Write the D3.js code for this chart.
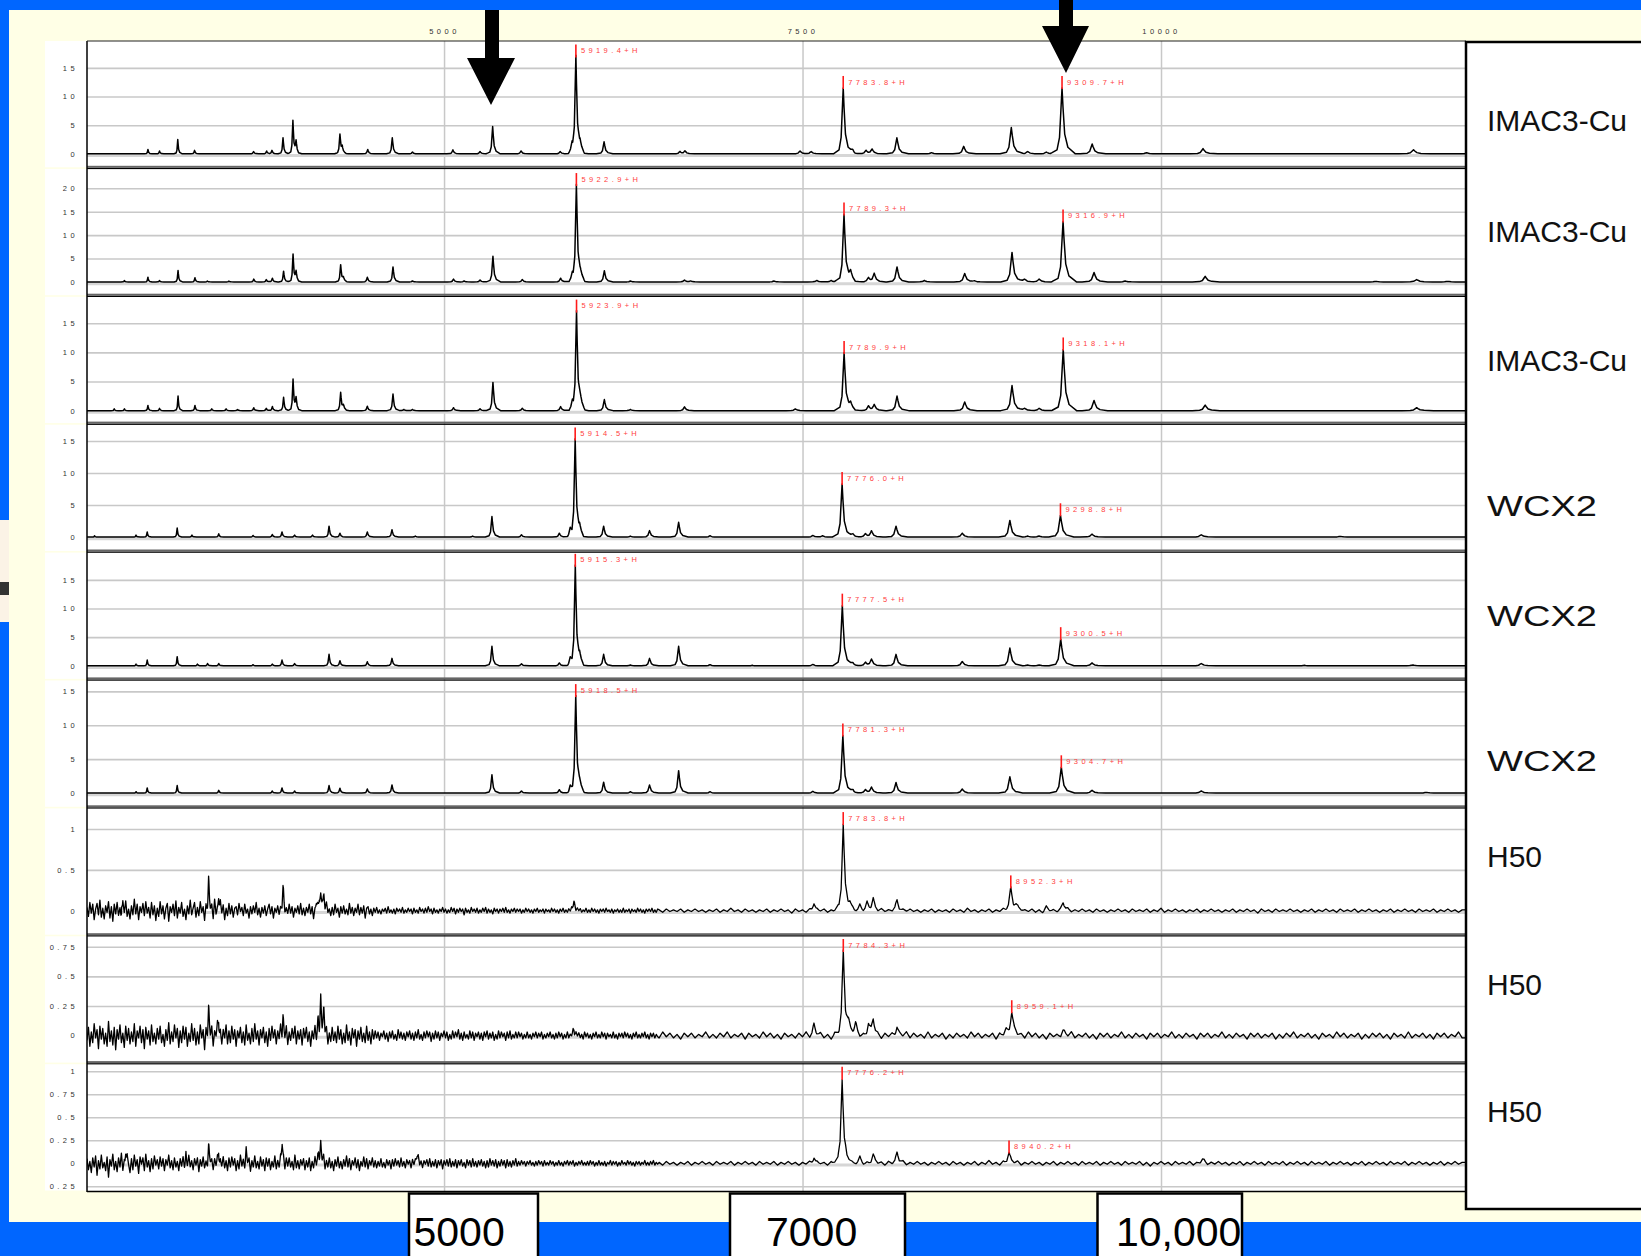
<!DOCTYPE html>
<html><head><meta charset="utf-8">
<script src="https://cdn.jsdelivr.net/npm/d3@7"></script>
<style>
html,body{margin:0;padding:0;background:#0066ff;}
svg{display:block;}
text{font-family:"Liberation Sans",Arial,Helvetica,sans-serif;}
</style></head><body>
<svg id="c" width="1641" height="1256"></svg>
<script>
// ---------------- DATA ----------------
const massExtent = [2510, 12120];
const topTicks = [5000, 7500, 10000];
const topTickLabels = ["5000", "7500", "10000"];
const bottomBoxLabels = ["5000", "7000", "10,000"];
const panelNames = ["IMAC3-Cu","IMAC3-Cu","IMAC3-Cu","WCX2","WCX2","WCX2","H50","H50","H50"];
const panelYMax = [19.7, 24.15, 19.54, 17.55, 19.76, 16.6, 1.252, 0.838, 1.077];
const panelYMin = [-2.04, -2.45, -1.83, -1.9, -1.97, -1.76, -0.272, -0.213, -0.276];
const panelTicks = [
  [0,5,10,15],[0,5,10,15,20],[0,5,10,15],[0,5,10,15],[0,5,10,15],[0,5,10,15],
  [0,0.5,1],[0,0.25,0.5,0.75],[-0.25,0,0.25,0.5,0.75,1]];
const panelTickLabels = [
  ["0","5","10","15"],["0","5","10","15","20"],["0","5","10","15"],["0","5","10","15"],
  ["0","5","10","15"],["0","5","10","15"],["0","0.5","1"],["0","0.25","0.5","0.75"],
  ["0.25","0","0.25","0.5","0.75","1"]];

// peaks: [m/z, intensity]
const imac1Peaks = [[2935,0.75],[3016,0.5],[3143,2.5],[3260,0.6],[3672,0.4],[3763,0.5],[3800,0.6],[3877,2.8],[3946,5.8],[3968,2.0],[4274,3.4],[4290,1.0],[4468,0.75],[4639,2.8],[4780,0.3],[5062,0.7],[5251,0.4],[5339,4.75],[5537,0.5],[5810,0.4],[5893,1.4],[5948,1.2],[6116,2.1],[6645,0.4],[6680,0.5],[7483,0.5],[7560,0.4],[7850,0.5],[7943,0.6],[7985,0.8],[8158,2.8],[8400,0.2],[8624,1.3],[8956,4.6],[9070,0.4],[9200,0.3],[9520,1.7],[9900,0.2],[10293,0.9],[11761,0.7]];
const imac1Marked = [[5919.4,17.0,"5919.4+H"],[7783.8,11.5,"7783.8+H"],[9309.7,11.5,"9309.7+H"]];

const imac2Peaks = [[2771,0.3],[2935,1.0],[3016,0.3],[3145,2.45],[3263,0.9],[3350,0.2],[3500,0.2],[3673,0.6],[3760,0.5],[3803,0.8],[3881,2.3],[3947,5.9],[3968,2.0],[4279,3.65],[4298,0.8],[4465,1.0],[4644,3.2],[4780,0.2],[5066,0.6],[5140,0.2],[5251,0.4],[5341,5.5],[5546,0.5],[5813,0.8],[5895,1.3],[5950,1.2],[6118,2.4],[6300,0.2],[6677,0.4],[6720,0.2],[7300,0.2],[7600,0.3],[7700,0.3],[7835,1.6],[7960,0.9],[8000,1.8],[8159,3.2],[8350,0.3],[8631,1.8],[8700,0.2],[8961,6.3],[9050,0.6],[9150,0.6],[9533,2.0],[9750,0.2],[10308,1.2],[11500,0.1],[11783,0.5],[12000,0.1]];
const imac2Marked = [[5922.9,20.7,"5922.9+H"],[7789.3,14.4,"7789.3+H"],[9316.9,12.9,"9316.9+H"]];

const imac3Peaks = [[2700,0.3],[2771,0.3],[2935,0.9],[3016,0.4],[3145,2.5],[3263,0.9],[3380,0.3],[3480,0.3],[3560,0.2],[3673,0.5],[3760,0.4],[3803,0.7],[3881,2.3],[3947,5.35],[3968,2.0],[4279,3.1],[4298,0.8],[4465,0.75],[4644,2.85],[4720,0.2],[4780,0.2],[5066,0.5],[5251,0.3],[5341,4.85],[5546,0.4],[5813,0.7],[5895,1.2],[5950,1.4],[6118,1.9],[6300,0.2],[6677,0.65],[7450,0.3],[7835,0.9],[7960,0.8],[8000,1.0],[8159,2.5],[8631,1.5],[8961,4.3],[9050,0.4],[9150,0.4],[9533,1.75],[10308,0.95],[11783,0.5]];
const imac3Marked = [[5923.9,17.0,"5923.9+H"],[7789.9,9.9,"7789.9+H"],[9318.1,10.5,"9318.1+H"]];

const wcx1Peaks = [[2563,0.2],[2852,0.3],[2930,0.8],[3139,1.4],[3242,0.3],[3429,0.5],[3668,0.25],[3802,0.4],[3870,0.8],[3958,0.3],[4083,0.3],[4198,1.7],[4274,0.6],[4465,0.8],[4637,1.15],[4800,0.15],[5200,0.15],[5334,3.2],[5540,0.35],[5804,0.6],[5880,1.0],[5945,1.0],[6113,1.7],[6300,0.15],[6433,1.0],[6636,2.3],[6855,0.2],[7572,0.25],[7640,0.2],[7852,0.5],[7939,0.5],[7981,0.95],[8152,1.7],[8614,0.6],[8946,2.6],[9070,0.15],[9150,0.15],[9519,0.45],[10281,0.35],[11250,0.1]];
const wcx1Marked = [[5914.5,15.25,"5914.5+H"],[7776.0,8.3,"7776.0+H"],[9298.8,3.4,"9298.8+H"]];

const wcx2Peaks = [[2852,0.3],[2930,1.0],[3139,1.6],[3280,0.3],[3351,0.4],[3429,0.4],[3668,0.2],[3802,0.3],[3870,1.0],[3958,0.4],[4198,2.0],[4274,0.9],[4465,0.7],[4637,1.3],[5334,3.4],[5540,0.35],[5804,0.5],[5880,1.0],[5945,1.2],[6113,2.0],[6300,0.15],[6433,1.3],[6636,3.4],[6855,0.2],[7150,0.1],[7572,0.25],[7852,0.5],[7939,0.6],[7981,1.15],[8152,2.0],[8614,0.75],[8946,3.1],[9070,0.15],[9150,0.15],[9519,0.5],[10281,0.4],[11000,0.1],[11757,0.15]];
const wcx2Marked = [[5915.3,17.45,"5915.3+H"],[7777.5,10.5,"7777.5+H"],[9300.5,4.65,"9300.5+H"]];

const wcx3Peaks = [[2852,0.2],[2930,0.75],[3139,1.1],[3429,0.4],[3802,0.3],[3870,0.75],[3958,0.3],[4198,1.1],[4274,0.7],[4465,0.6],[4637,1.2],[5334,2.7],[5540,0.3],[5804,0.5],[5880,0.8],[5945,1.0],[6113,1.6],[6300,0.2],[6433,1.2],[6636,3.3],[6855,0.2],[7572,0.25],[7852,0.4],[7939,0.5],[7981,0.85],[8152,1.55],[8614,0.6],[8946,2.4],[9519,0.4],[10281,0.3],[11850,0.1]];
const wcx3Marked = [[5918.5,14.3,"5918.5+H"],[7781.3,8.5,"7781.3+H"],[9304.7,3.8,"9304.7+H"]];

const h50aPeaks = [[2752,0.15],[3358,0.36],[3428,0.2],[3877,0.24],[4120,0.12],[4140,0.28],[4162,0.15],[5906,0.12],[7580,0.09],[7830,0.06],[7900,0.06],[7950,0.08],[7993,0.15],[8159,0.13],[8990,0.05],[9200,0.04],[9317,0.1]];
const h50aMarked = [[7783.8,1.06,"7783.8+H"],[8952.3,0.285,"8952.3+H"]];
const h50bPeaks = [[3358,0.2],[3428,0.14],[3877,0.18],[4122,0.15],[4140,0.28],[4162,0.15],[5906,0.05],[7580,0.1],[7820,0.08],[7870,0.09],[7960,0.1],[7993,0.13],[8159,0.08],[8920,0.05],[9317,0.04]];
const h50bMarked = [[7784.3,0.714,"7784.3+H"],[8959.1,0.197,"8959.1+H"]];
const h50cPeaks = [[2780,0.15],[3200,0.12],[3358,0.16],[3428,0.17],[3620,0.12],[3871,0.22],[4125,0.12],[4140,0.18],[4811,0.1],[7580,0.07],[7900,0.05],[7993,0.09],[8159,0.12],[10290,0.04]];
const h50cMarked = [[7776.2,0.918,"7776.2+H"],[8940.2,0.117,"8940.2+H"]];

// baseline noise of the H50 traces, in hundredths of intensity
// low range: from 2510 every 10 Da; high range: from 6500 every 25 Da
const h50aNoiseLow = [
4,-7,10,-3,8,-11,2,9,-5,13,-8,3,-10,6,-2,11,-9,5,-13,8,-4,10,-6,3,-15,
9,-3,12,-7,2,-10,6,-5,14,-4,8,-11,5,-2,9,-6,11,-3,4,-9,10,-5,6,-12,3,
-7,11,-4,6,-10,3,9,-13,5,-2,8,-6,12,-9,4,-3,10,-7,2,-11,6,-4,13,-5,3,
10,-8,4,-6,11,-2,5,-12,7,-4,9,-3,6,-10,14,-5,2,-7,10,-4,7,-11,3,-6,9,
-4,6,-8,3,5,-5,9,-1,4,-6,8,-3,2,-9,5,-4,6,-2,10,-5,3,-8,4,-3,6,
-6,2,8,-4,5,-9,3,-2,6,-5,4,-3,11,-6,2,-4,8,-3,5,-8,3,-2,6,-4,9,
-5,3,-6,4,-2,8,-4,5,-10,3,6,-3,4,-8,2,5,-4,9,-3,2,-6,4,-5,8,-2,
3,-8,5,-3,6,-4,2,-5,9,-3,4,-6,3,-2,8,-5,4,-3,6,-9,3,5,-4,2,-6,
3,-2,4,-3,1,-4,2,-1,3,-3,5,-2,1,-3,2,-4,3,-1,2,-2,4,-3,1,-2,3,
-1,2,-4,3,-2,1,-3,4,-1,2,-3,3,-2,5,-1,2,-4,3,-2,1,-3,2,-1,4,-2,
2,-3,1,-2,4,-1,3,-4,2,-2,3,-1,2,-5,3,-2,1,-3,4,-1,2,-2,3,-3,1,
-2,3,-1,4,-3,2,-2,1,-4,3,-1,2,-3,2,-1,3,-2,4,-2,1,-3,2,-1,3,-2,
2,-1,2,-3,1,-2,3,-1,2,-2,1,-3,2,-1,3,-2,1,-1,2,-3,2,-1,1,-2,3,
-1,2,-2,1,-3,2,-1,3,-2,1,-2,2,-1,3,-2,1,-3,2,-1,2,-2,1,-1,3,-2,
1,-2,3,-1,2,-2,1,-3,2,-1,2,-2,3,-1,1,-2,2,-3,1,-1,2,-2,1,-2,3,
-2,1,-1,2,-3,2,-1,1,-2,3,-1,2,-2,1,-3,2,-1,2,-1,3,-2,1,-2,2,-1];
const h50aNoiseHigh = [
1,-2,2,-1,1,-1,2,-2,1,-1,2,-1,1,-2,1,-1,2,-2,1,-1,3,-1,1,-2,2,
-1,1,-2,1,-1,2,-2,1,-1,2,-1,1,-3,2,-1,1,-2,2,-1,1,-1,2,-2,1,-1,
2,-1,1,-2,1,-1,2,-2,3,-1,1,-2,2,-1,1,-1,2,-2,1,-1,2,-1,1,-2,1,
-1,2,-2,1,-1,1,-2,2,-1,1,-2,3,-1,1,-2,1,-1,2,-2,1,-1,2,-1,1,-2,
2,-1,1,-1,2,-2,1,-3,2,-1,1,-2,1,-1,2,-2,1,-1,2,-1,1,-2,2,-1,1,
-2,1,-1,2,-1,1,-2,2,-1,1,-1,2,-2,1,-1,3,-2,1,-1,2,-1,1,-2,1,-1,
2,-2,1,-1,2,-1,1,-2,1,-1,2,-2,1,-1,2,-1,1,-3,2,-1,1,-2,2,-1,1,
-1,2,-1,1,-2,1,-1,2,-2,1,-1,2,-1,1,-2,2,-1,1,-1,2,-2,1,-1,2,-1,
1,-2,1,-1,2,-2,1,-1,2,-1,1,-2,2,-1,1,-1,2,-2,1,-1,2,-1,1,-2,1];
const h50bNoiseLow = [
-4,7,-9,3,-6,10,-2,5,-11,8,-3,6,-7,2,-9,12,-5,4,-8,7,-12,5,-3,9,-6,
2,-10,8,-4,6,-7,3,-5,10,-9,4,-2,8,-6,5,-11,7,-3,4,-8,9,-5,2,-7,6,
-3,8,-6,1,-9,5,-4,11,-7,3,-5,9,-2,6,-10,4,-6,8,-3,7,-9,2,-5,10,-4,
6,-8,3,-7,9,-2,5,-12,6,-4,8,-3,7,-9,4,-1,10,-6,3,-8,5,-2,9,-7,4,
-6,8,-3,5,-9,4,-2,7,-6,3,-8,9,-4,2,-7,6,-5,10,-3,4,-8,5,-2,7,-6,
3,-9,6,-4,8,-2,5,-7,4,-3,9,-6,2,-5,7,-8,3,-4,6,-2,8,-7,4,-3,5,
-8,6,-2,7,-5,3,-9,4,-3,8,-6,2,-7,5,-4,9,-3,6,-8,2,-5,7,-4,3,-6,
8,-3,5,-7,2,-6,9,-4,3,-8,6,-2,5,-9,4,-3,7,-5,2,-6,8,-4,3,-7,5,
-3,4,-2,3,-4,2,-1,4,-3,2,-5,3,-2,4,-3,1,-4,5,-2,3,-3,2,-4,3,-1,
4,-3,2,-4,3,-2,5,-3,1,-4,3,-2,4,-1,3,-5,2,-3,4,-2,3,-4,2,-1,4,
-2,3,-4,1,-3,4,-2,3,-1,5,-3,2,-4,3,-2,1,-3,4,-2,3,-4,2,-1,3,-3,
2,-4,3,-1,4,-3,2,-2,3,-4,1,-3,4,-2,3,-1,2,-4,3,-2,4,-3,1,-2,3,
-2,3,-1,2,-3,1,-2,3,-2,1,-3,2,-1,3,-2,2,-1,3,-3,1,-2,2,-1,3,-2,
1,-3,2,-2,3,-1,2,-3,1,-2,3,-2,1,-1,3,-3,2,-1,2,-2,1,-3,3,-1,2,
-2,1,-3,2,-1,3,-2,1,-2,3,-1,2,-3,2,-1,1,-2,3,-2,1,-3,2,-1,2,-2,
3,-1,2,-2,1,-3,2,-1,3,-2,1,-2,2,-1,3,-2,1,-3,2,-1,2,-2,1,-1,2];
const h50bNoiseHigh = [
-2,3,-1,2,-2,1,-3,2,-1,2,-2,1,-1,3,-2,1,-2,2,-1,3,-2,1,-1,2,-3,
2,-1,1,-2,3,-1,2,-2,1,-3,2,-1,1,-2,2,-1,3,-2,1,-1,2,-2,1,-3,2,
-1,2,-2,1,-1,3,-2,1,-2,2,-1,1,-3,2,-1,2,-2,1,-1,3,-2,2,-1,1,-2,
3,-2,1,-1,2,-3,1,-2,2,-1,1,-2,3,-1,2,-2,1,-1,2,-3,2,-1,1,-2,2,
-1,1,-2,3,-1,2,-2,1,-3,2,-1,1,-2,2,-1,3,-2,1,-1,2,-2,1,-3,2,-1,
2,-2,1,-1,3,-2,1,-2,2,-1,1,-3,2,-1,2,-2,1,-1,3,-2,1,-2,2,-1,1,
-3,2,-1,2,-2,1,-1,3,-2,1,-2,2,-1,1,-3,2,-1,2,-2,1,-1,2,-3,1,-2,
2,-1,3,-2,1,-1,2,-2,1,-3,2,-1,1,-2,3,-1,2,-2,1,-1,2,-3,1,-2,2,
-1,2,-2,1,-3,2,-1,1,-2,3,-2,1,-1,2,-2,1,-3,2,-1,2,-2,1,-1,3,-2];
const h50cNoiseLow = [
5,-7,2,-10,6,-4,8,-13,3,-6,9,-5,1,-8,7,-15,4,-3,10,-7,2,-9,6,-4,11,
-8,3,-5,8,-2,-10,5,-7,9,-3,4,-11,7,-1,6,-8,10,-4,3,-9,5,-6,8,-2,4,
-6,7,-3,5,-8,4,-2,9,-5,3,-7,6,-4,2,-8,5,-3,7,-6,1,-5,8,-4,3,-7,
5,-2,6,-9,4,-3,7,-5,2,-6,8,-1,4,-7,5,-3,6,-9,2,-4,7,-5,3,-8,6,
-4,7,-2,5,-8,3,-6,9,-3,4,-7,6,-2,5,-9,3,-4,8,-5,2,-6,7,-3,4,-8,
6,-3,5,-7,2,-4,8,-6,3,-5,7,-2,4,-8,5,-3,6,-4,2,-7,9,-5,3,-6,4,
-2,5,-7,3,-4,6,-8,2,-5,7,-3,4,-6,5,-2,8,-7,3,-4,6,-5,2,-8,4,-3,
7,-5,2,-6,4,-3,8,-4,5,-7,3,-2,6,-5,4,-8,2,-3,7,-4,5,-6,3,-2,6,
-4,3,-5,2,-3,5,-4,1,-5,4,-2,3,-6,4,-3,5,-2,3,-4,6,-3,2,-5,4,-1,
3,-5,4,-2,3,-4,6,-3,2,-5,3,-1,4,-3,5,-4,2,-3,4,-5,3,-2,4,-6,3,
-2,4,-3,5,-4,2,-3,4,-5,3,-2,4,-3,1,-5,4,-2,3,-4,5,-3,2,-4,3,-2,
4,-3,2,-5,3,-4,5,-2,3,-3,4,-5,2,-3,4,-2,3,-5,4,-3,2,-4,3,-2,5,
-3,2,-2,3,-1,2,-3,2,-1,3,-2,1,-3,2,-2,3,-1,2,-3,3,-2,1,-2,3,-1,
2,-3,1,-2,3,-2,1,-3,2,-1,3,-2,2,-1,3,-3,1,-2,2,-1,3,-2,1,-2,2,
-2,3,-1,2,-3,1,-2,3,-2,1,-2,2,-3,1,-1,3,-2,2,-1,2,-3,1,-2,3,-1,
1,-2,3,-1,2,-2,1,-3,2,-1,2,-2,1,-1,3,-2,1,-2,2,-1,3,-2,1,-1,2];
const h50cNoiseHigh = [
1,-2,2,-1,1,-2,1,-1,2,-2,1,-1,2,-1,1,-2,2,-1,1,-1,2,-2,1,-1,2,
-1,1,-2,2,-1,1,-1,2,-2,1,-1,2,-1,1,-2,1,-1,2,-2,1,-1,1,-2,2,-1,
2,-1,1,-2,1,-1,3,-2,1,-1,2,-1,1,-2,2,-1,1,-1,2,-2,1,-1,2,-1,1,
-2,1,-1,2,-1,1,-2,2,-1,1,-2,1,-1,2,-2,1,-1,3,-1,1,-2,2,-1,1,-1,
2,-2,1,-1,2,-1,1,-2,1,-1,2,-2,1,-1,2,-1,1,-2,2,-1,1,-1,2,-2,1,
-1,2,-1,1,-2,2,-1,1,-1,2,-2,1,-3,1,-1,2,-1,1,-2,2,-1,1,-1,2,-2,
1,-1,2,-2,1,-1,2,-1,1,-2,1,-1,2,-2,1,-1,2,-1,1,-2,2,-1,1,-1,2,
-2,1,-1,2,-1,1,-2,2,-1,1,-1,2,-2,1,-1,2,-1,1,-2,1,-1,2,-2,1,-1,
2,-1,1,-2,2,-1,1,-1,2,-2,1,-1,2,-1,1,-2,1,-1,2,-2,1,-1,2,-1,1];

const spectra = [
  {peaks: imac1Peaks, marked: imac1Marked},
  {peaks: imac2Peaks, marked: imac2Marked},
  {peaks: imac3Peaks, marked: imac3Marked},
  {peaks: wcx1Peaks, marked: wcx1Marked},
  {peaks: wcx2Peaks, marked: wcx2Marked},
  {peaks: wcx3Peaks, marked: wcx3Marked},
  {peaks: h50aPeaks, marked: h50aMarked, lo: h50aNoiseLow, hi: h50aNoiseHigh},
  {peaks: h50bPeaks, marked: h50bMarked, lo: h50bNoiseLow, hi: h50bNoiseHigh},
  {peaks: h50cPeaks, marked: h50cMarked, lo: h50cNoiseLow, hi: h50cNoiseHigh}
];

// ---------------- LAYOUT ----------------
const W = 1641, H = 1256;
const plotL = 87, plotR = 1466, plotT = 41, plotB = 1192;
const panelStep = 127.9, panelInner = 124.5;
const labelCenters = [120.4, 231.3, 360, 505, 615.4, 759.8, 856, 983.8, 1111.5];
const noiseLowStart = 2510, noiseLowStep = 10, noiseSplit = 6500, noiseHighStep = 25;
// peak outline (offset in peak-width units, fraction of height)
const shape = [[-7,0],[-3,0.06],[-1.5,0.25],[-0.6,0.7],[0,1],[0.6,0.7],[1.6,0.3],[3.5,0.1],[8,0]];
const widthFactor = 0.00125;

const svg = d3.select("#c");
svg.append("rect").attr("width", W).attr("height", H).attr("fill", "#0066ff");
svg.append("rect").attr("x", 9).attr("y", 10).attr("width", W - 9).attr("height", 1212).attr("fill", "#ffffe6");
svg.append("rect").attr("x", 0).attr("y", 520).attr("width", 9).attr("height", 102).attr("fill", "#fbf3e6");
svg.append("rect").attr("x", 0).attr("y", 582).attr("width", 9).attr("height", 13).attr("fill", "#333");

svg.append("rect").attr("x", plotL).attr("y", plotT).attr("width", plotR - plotL).attr("height", plotB - plotT).attr("fill", "#fff");

const x = d3.scaleLinear().domain(massExtent).range([plotL, plotR - 1]);

const topAxis = svg.append("g").attr("transform", `translate(0,${plotT})`)
  .call(d3.axisTop(x).tickValues(topTicks).tickFormat((d, j) => topTickLabels[j])
        .tickSize(-(plotB - plotT)).tickPadding(7.5));
topAxis.select(".domain").remove();
topAxis.selectAll("line").attr("stroke", "#c8c8c8").attr("stroke-width", 1.5);
topAxis.selectAll("text").attr("font-size", 7.5).attr("fill", "#333").style("letter-spacing", "3.5px")
  .attr("font-family", "'Liberation Sans', Arial, sans-serif");

function interpArr(arr, idx) {
  const n = arr.length - 1;
  if (idx <= 0) return arr[0];
  if (idx >= n) return arr[n];
  const k = Math.floor(idx), f = idx - k;
  return arr[k] * (1 - f) + arr[k + 1] * f;
}
function peakAt(m, peaks) {
  let v = 0;
  for (const [pm, h] of peaks) {
    const s = pm * widthFactor, u = (m - pm) / s;
    if (u <= shape[0][0] || u >= shape[shape.length - 1][0]) continue;
    for (let k = 1; k < shape.length; k++) {
      if (u <= shape[k][0]) {
        const [u0, f0] = shape[k - 1], [u1, f1] = shape[k];
        v += h * (f0 + (f1 - f0) * (u - u0) / (u1 - u0));
        break;
      }
    }
  }
  return v;
}
function noiseAt(m, lo, hi) {
  if (!lo) return 0;
  return 0.01 * (m < noiseSplit ? interpArr(lo, (m - noiseLowStart) / noiseLowStep)
                                : interpArr(hi, (m - noiseSplit) / noiseHighStep));
}

const defs = svg.append("defs");

spectra.forEach((sp, i) => {
  const top = plotT + i * panelStep, bot = top + panelInner;
  const y = d3.scaleLinear().domain([panelYMin[i], panelYMax[i]]).range([bot, top]);
  const g = svg.append("g");

  g.append("rect").attr("x", 45).attr("y", top).attr("width", plotL - 45).attr("height", panelStep - 1.6).attr("fill", "#fff");

  const ax = g.append("g").attr("transform", `translate(${plotL},0)`)
    .call(d3.axisLeft(y).tickValues(panelTicks[i]).tickFormat((d, j) => panelTickLabels[i][j])
          .tickSize(-(plotR - plotL)).tickPadding(9));
  ax.select(".domain").remove();
  ax.selectAll(".tick line").attr("stroke", d => d === 0 ? "#d6d6d6" : "#c8c8c8")
    .attr("stroke-width", d => d === 0 ? 3 : 1.6)
    .attr("transform", d => d === 0 ? "translate(0,1.2)" : null);
  ax.selectAll(".tick text").attr("font-size", 7.5).attr("fill", "#333").style("letter-spacing", "3.4px")
    .attr("font-family", "'Liberation Sans', Arial, sans-serif");

  const allPeaks = sp.peaks.concat(sp.marked.map(d => [d[0], d[1]]));
  let ms = [massExtent[0], massExtent[1]];
  allPeaks.forEach(([pm]) => shape.forEach(([u]) => ms.push(pm + u * pm * widthFactor)));
  if (sp.lo) {
    sp.lo.forEach((_, k) => ms.push(noiseLowStart + k * noiseLowStep));
    sp.hi.forEach((_, k) => ms.push(noiseSplit + k * noiseHighStep));
  }
  ms = Array.from(new Set(ms)).filter(m => m >= massExtent[0] && m <= massExtent[1]).sort((a, b) => a - b);
  const pts = ms.map(m => [m, peakAt(m, allPeaks) + noiseAt(m, sp.lo, sp.hi)]);

  const cid = "clip" + i;
  defs.append("clipPath").attr("id", cid).append("rect")
    .attr("x", plotL).attr("y", top).attr("width", plotR - plotL).attr("height", panelInner);
  g.append("path").datum(pts).attr("clip-path", `url(#${cid})`)
    .attr("fill", "none").attr("stroke", "#000").attr("stroke-width", sp.lo ? 1.3 : 1.5)
    .attr("stroke-linejoin", "round")
    .attr("d", d3.line().x(d => x(d[0])).y(d => y(d[1])));

  sp.marked.forEach(([m, h, lab]) => {
    const px = x(m), py = y(h);
    g.append("line").attr("x1", px).attr("x2", px).attr("y1", py - 12).attr("y2", py + 1)
      .attr("stroke", "#ff1a1a").attr("stroke-width", 1.6);
    g.append("text").attr("x", px + 5).attr("y", py - 6).attr("dy", "0.35em")
      .attr("font-size", 7.5).attr("fill", "#ff4040").style("letter-spacing", "3.4px").text(lab);
  });

  if (i < spectra.length - 1) {
    g.append("rect").attr("x", plotL).attr("y", bot + 0.3).attr("width", plotR - plotL).attr("height", 2).attr("fill", "#666");
    g.append("rect").attr("x", plotL).attr("y", bot + 2.4).attr("width", plotR - plotL).attr("height", 1.2).attr("fill", "#000");
  }
});

svg.append("line").attr("x1", plotL).attr("x2", plotL).attr("y1", plotT).attr("y2", plotB).attr("stroke", "#000").attr("stroke-width", 1.5);
svg.append("line").attr("x1", plotL).attr("x2", plotR).attr("y1", plotT).attr("y2", plotT).attr("stroke", "#222").attr("stroke-width", 1.2);
svg.append("line").attr("x1", plotL).attr("x2", plotR).attr("y1", plotB - 0.5).attr("y2", plotB - 0.5).attr("stroke", "#000").attr("stroke-width", 1.5);

svg.append("rect").attr("x", 1466).attr("y", 42).attr("width", 260).attr("height", 1167)
  .attr("fill", "#fff").attr("stroke", "#000").attr("stroke-width", 2.5);
svg.append("g").selectAll("text").data(panelNames).join("text")
  .attr("x", 1487).attr("y", (d, j) => labelCenters[j] + 10.7)
  .attr("font-size", 30).attr("fill", "#111")
  .attr("textLength", d => d === "WCX2" ? 110 : null)
  .attr("lengthAdjust", d => d === "WCX2" ? "spacingAndGlyphs" : null)
  .text(d => d);

const boxes = [{x: 409, w: 129, tx: 413.5}, {x: 730, w: 175, tx: 766}, {x: 1097.5, w: 144.5, tx: 1116}];
boxes.forEach((b, j) => {
  svg.append("rect").attr("x", b.x).attr("y", 1193.5).attr("width", b.w).attr("height", 90)
    .attr("fill", "#fff").attr("stroke", "#000").attr("stroke-width", 2.5);
  svg.append("text").attr("x", b.tx).attr("y", 1246).attr("font-size", 41).attr("fill", "#000").text(bottomBoxLabels[j]);
});

svg.append("path").attr("fill", "#000")
  .attr("d", "M485,10 L499,10 L499,58 L515,58 L491,105 L467,58 L485,58 Z");
svg.append("path").attr("fill", "#000")
  .attr("d", "M1059,0 L1073,0 L1073,26 L1089,26 L1066,73 L1042,26 L1059,26 Z");
</script></body></html>
